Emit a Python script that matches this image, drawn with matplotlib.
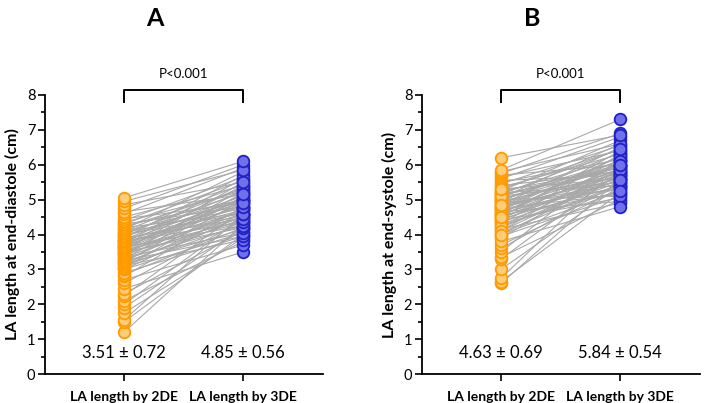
import numpy as np
import matplotlib
matplotlib.use('Agg')
import matplotlib.pyplot as plt
from matplotlib.ticker import MultipleLocator

plt.rcParams['font.family'] = ['Lato', 'DejaVu Sans']

groups = ['LA length by 2DE', 'LA length by 3DE']

# panel A: end-diastole (paired values, cm)
a_2de = [1.20, 1.50, 1.55, 1.75, 1.90, 2.00, 2.10, 2.25, 2.30, 2.45,
         2.60, 2.70, 2.80, 2.85, 2.90, 3.00, 3.00, 3.05, 3.10, 3.10,
         3.15, 3.15, 3.20, 3.20, 3.25, 3.25, 3.30, 3.30, 3.35, 3.35,
         3.40, 3.40, 3.45, 3.45, 3.50, 3.50, 3.50, 3.55, 3.55, 3.60,
         3.60, 3.60, 3.65, 3.65, 3.70, 3.70, 3.70, 3.75, 3.75, 3.80,
         3.80, 3.80, 3.85, 3.85, 3.90, 3.90, 3.95, 3.95, 4.00, 4.00,
         4.05, 4.05, 4.10, 4.10, 4.15, 4.20, 4.20, 4.25, 4.30, 4.30,
         4.35, 4.40, 4.45, 4.50, 4.60, 4.65, 4.75, 4.85, 4.95, 5.05]
a_3de = [4.30, 4.00, 4.60, 3.90, 4.20, 4.50, 3.80, 4.70, 4.10, 3.50,
         4.40, 3.70, 4.80, 4.20, 3.95, 4.55, 4.05, 5.00, 4.30, 3.85,
         4.60, 4.15, 5.10, 4.45, 3.95, 4.75, 4.25, 5.20, 4.50, 4.05,
         4.70, 5.30, 4.35, 4.90, 4.20, 5.05, 4.60, 5.50, 4.40, 4.85,
         5.15, 4.50, 4.95, 4.25, 5.40, 4.65, 5.00, 4.80, 5.60, 4.35,
         5.05, 4.55, 5.25, 4.70, 5.70, 4.45, 5.10, 4.90, 5.35, 4.60,
         5.20, 4.75, 5.45, 4.95, 5.80, 4.60, 5.30, 5.00, 5.55, 4.80,
         5.25, 5.65, 4.90, 5.40, 5.90, 5.15, 6.00, 5.50, 5.85, 6.10]

# panel B: end-systole (paired values, cm)
b_2de = [2.60, 2.65, 2.75, 3.00, 3.30, 3.35, 3.50, 3.60, 3.70, 3.90,
         3.95, 4.00, 4.05, 4.10, 4.15, 4.20, 4.25, 4.30, 4.30, 4.35,
         4.40, 4.40, 4.45, 4.45, 4.50, 4.50, 4.55, 4.55, 4.60, 4.60,
         4.65, 4.65, 4.70, 4.70, 4.75, 4.75, 4.80, 4.80, 4.85, 4.85,
         4.90, 4.90, 4.95, 4.95, 5.00, 5.00, 5.05, 5.05, 5.10, 5.10,
         5.15, 5.15, 5.20, 5.20, 5.25, 5.25, 5.30, 5.35, 5.40, 5.45,
         5.50, 5.55, 5.60, 5.65, 5.70, 5.75, 5.80, 5.85, 5.00, 4.25,
         4.10, 3.80, 4.60, 4.75, 5.10, 4.50, 4.00, 5.30, 4.85, 6.20]
b_3de = [5.60, 5.20, 6.00, 5.40, 5.80, 5.00, 6.20, 5.50, 5.30, 5.90,
         5.10, 5.70, 5.45, 6.10, 4.90, 5.60, 5.85, 5.25, 6.30, 5.50,
         5.75, 5.05, 6.00, 5.40, 5.65, 6.40, 5.20, 5.90, 5.55, 6.15,
         4.95, 5.80, 5.35, 6.25, 5.70, 5.15, 6.05, 5.60, 6.50, 5.45,
         5.95, 5.30, 6.35, 5.75, 5.10, 6.10, 5.65, 6.60, 5.50, 6.00,
         5.85, 6.45, 5.40, 6.20, 5.90, 6.70, 5.60, 6.30, 5.80, 6.55,
         6.15, 5.70, 6.80, 6.40, 6.00, 6.90, 6.60, 7.30, 5.95, 5.35,
         5.70, 4.80, 6.25, 5.85, 6.10, 5.55, 5.25, 6.45, 6.00, 6.85]

panels = [
    ('A', 'LA length at end-diastole (cm)', a_2de, a_3de, ['3.51 ± 0.72', '4.85 ± 0.56']),
    ('B', 'LA length at end-systole (cm)', b_2de, b_3de, ['4.63 ± 0.69', '5.84 ± 0.54']),
]
p_text = 'P<0.001'

orange_face, orange_edge = '#ffcc77', '#ff9a00'
blue_face, blue_edge = '#7070e8', '#2020c8'

fig = plt.figure(figsize=(7.06, 4.03), dpi=100)
W, H = 706, 403
lefts = [45, 422]

for i, (tag, ylab, v1, v2, stats) in enumerate(panels):
    left = lefts[i]
    ax = fig.add_axes([left / W, 1 - 374 / H, 278 / W, 279 / H])
    for y1, y2 in zip(v1, v2):
        ax.plot([0, 1], [y1, y2], color='#a8a8a8', lw=0.8, zorder=1)
    ax.scatter(np.zeros(len(v1)), v1, s=70, facecolor=orange_face,
               edgecolor=orange_edge, linewidth=1.3, zorder=3)
    ax.scatter(np.ones(len(v2)), v2, s=70, facecolor=blue_face,
               edgecolor=blue_edge, linewidth=1.3, zorder=3)

    ax.set_xlim(-0.664, 1.67)
    ax.set_ylim(0, 8)
    ax.set_xticks([0, 1])
    ax.set_xticklabels(groups, fontsize=10, fontweight='bold')
    ax.yaxis.set_major_locator(MultipleLocator(1))
    ax.yaxis.set_minor_locator(MultipleLocator(0.5))
    ax.tick_params(axis='y', labelsize=10.5, length=5, width=1.2, pad=2)
    ax.tick_params(axis='y', which='minor', length=3, width=1.2)
    ax.tick_params(axis='x', length=5, width=1.2, pad=7)
    ax.set_ylabel(ylab, fontsize=11.5, fontweight='bold', labelpad=5)
    for s in ['top', 'right']:
        ax.spines[s].set_visible(False)
    for s in ['left', 'bottom']:
        ax.spines[s].set_linewidth(1.3)

    # significance bracket
    ax.plot([0, 0, 1, 1], [7.8, 8.13, 8.13, 7.8], color='black', lw=1.4,
            clip_on=False)
    ax.text(0.5, 8.42, p_text, ha='center', va='bottom', fontsize=9.5)

    for x, s in zip([0, 1], stats):
        ax.text(x, 0.6, s, ha='center', va='center', fontsize=12)

    fig.text((left + 110) / W, 1 - 18 / H, tag, ha='center', va='center',
             fontsize=18, fontweight='bold')

fig.savefig('out.png', dpi=100)
